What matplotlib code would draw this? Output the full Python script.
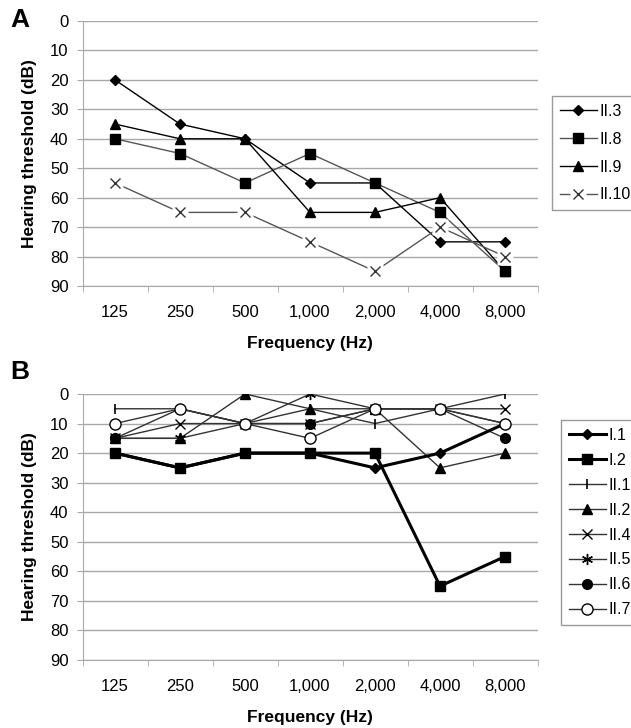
import matplotlib
matplotlib.use("Agg")
import matplotlib.pyplot as plt
from matplotlib.legend_handler import HandlerTuple

plt.rcParams['font.family'] = ['Liberation Sans', 'DejaVu Sans']

freqs = ["125", "250", "500", "1,000", "2,000", "4,000", "8,000"]

# panel A
a_ii3 = [20, 35, 40, 55, 55, 75, 75]
a_ii8 = [40, 45, 55, 45, 55, 65, 85]
a_ii9 = [35, 40, 40, 65, 65, 60, 85]
a_ii10 = [55, 65, 65, 75, 85, 70, 80]

# panel B
b_i1 = [20, 25, 20, 20, 25, 20, 10]
b_i2 = [20, 25, 20, 20, 20, 65, 55]
b_ii1 = [5, 5, 10, 5, 10, 5, 0]
b_ii2 = [15, 15, 0, 5, 5, 25, 20]
b_ii4 = [15, 10, 10, 10, 5, 5, 5]
b_ii5 = [15, 15, 10, 0, 5, 5, 10]
b_ii6 = [15, 5, 10, 10, 5, 5, 15]
b_ii7 = [10, 5, 10, 15, 5, 5, 10]

W, H = 631, 728
fig = plt.figure(figsize=(W / 100, H / 100), dpi=100)

grid_c = "#a8a8a8"
x = list(range(len(freqs)))


def setup(ax):
    ax.set_xlim(-0.5, 6.5)
    ax.set_ylim(90, 0)
    ax.set_yticks(range(0, 100, 10))
    ax.grid(axis="y", color=grid_c, lw=1)
    ax.set_axisbelow(True)
    for s in ["top", "right"]:
        ax.spines[s].set_visible(False)
    ax.spines["left"].set_color(grid_c)
    ax.spines["bottom"].set_color(grid_c)
    ax.set_xticks(x)
    ax.set_xticklabels(freqs)
    ax.set_xticks([i - 0.5 for i in range(8)], minor=True)
    ax.tick_params(axis="x", which="major", length=0, pad=14, labelsize=12)
    ax.tick_params(axis="x", which="minor", length=4, color=grid_c)
    ax.tick_params(axis="y", length=4, color=grid_c, pad=6, labelsize=12)
    ax.set_ylabel("Hearing threshold (dB)", fontsize=12.5, fontweight="bold")
    ax.yaxis.set_label_coords(-0.1, 0.5)
    ax.set_xlabel("Frequency (Hz)", fontsize=12.5, fontweight="bold", labelpad=11)


# ---- A ----
axA = fig.add_axes([82.5 / W, (H - 286) / H, 455 / W, 265 / H])
setup(axA)
lA1, = axA.plot(x, a_ii3, color="black", lw=1, marker="D", ms=5, mfc="black", mec="black")
lA2, = axA.plot(x, a_ii8, color="#555555", lw=1, marker="s", ms=7, mfc="black", mec="black")
lA3, = axA.plot(x, a_ii9, color="black", lw=1, marker="^", ms=7, mfc="black", mec="black")
lA4, = axA.plot(x, a_ii10, color="#555555", lw=1)
wA, = axA.plot(x, a_ii10, ls="none", marker="s", ms=11, mfc="white", mec="none")
xA, = axA.plot(x, a_ii10, ls="none", marker="x", ms=7, mew=1, color="#333333")
axA.legend([lA1, lA2, lA3, (lA4, wA, xA)], ["II.3", "II.8", "II.9", "II.10"],
           handler_map={tuple: HandlerTuple(ndivide=1)},
           loc="upper left", bbox_to_anchor=(552 / W, (H - 96) / H),
           bbox_transform=fig.transFigure, fontsize=11.5, numpoints=1,
           handlelength=2.3, handletextpad=0.2, labelspacing=0.8,
           borderpad=0.5, borderaxespad=0, fancybox=False,
           edgecolor="#999999", framealpha=1)
fig.text(10 / W, (H - 20) / H, "A", fontsize=19, fontweight="bold", va="center")

# ---- B ----
axB = fig.add_axes([82.5 / W, (H - 660) / H, 455 / W, 266 / H])
setup(axB)
lB = []
lB.append(axB.plot(x, b_i1, color="black", lw=2.2, marker="D", ms=5, mfc="black", mec="black", zorder=4)[0])
lB.append(axB.plot(x, b_i2, color="black", lw=2.2, marker="s", ms=7, mfc="black", mec="black", zorder=4)[0])
lB.append(axB.plot(x, b_ii1, color="#333333", lw=1, marker="|", ms=7, mew=1.2, mec="black")[0])
lB.append(axB.plot(x, b_ii2, color="#333333", lw=1, marker="^", ms=7, mfc="black", mec="black")[0])
lB.append(axB.plot(x, b_ii4, color="#333333", lw=1, marker="x", ms=7, mew=1, mec="black")[0])
lB.append(axB.plot(x, b_ii5, color="#333333", lw=1, marker=(6, 2, 0), ms=8, mew=1, mec="black")[0])
lB.append(axB.plot(x, b_ii6, color="#333333", lw=1, marker="o", ms=7, mfc="black", mec="black")[0])
lB.append(axB.plot(x, b_ii7, color="#333333", lw=1, marker="o", ms=8, mfc="white", mec="black", zorder=5)[0])
axB.legend(lB, ["I.1", "I.2", "II.1", "II.2", "II.4", "II.5", "II.6", "II.7"],
           loc="upper left", bbox_to_anchor=(561 / W, (H - 420) / H),
           bbox_transform=fig.transFigure, fontsize=11.5, numpoints=1,
           handlelength=2.3, handletextpad=0.2, labelspacing=0.62,
           borderpad=0.5, borderaxespad=0, fancybox=False,
           edgecolor="#999999", framealpha=1)
fig.text(10 / W, (H - 372) / H, "B", fontsize=19, fontweight="bold", va="center")

fig.savefig("out.png", dpi=100)
